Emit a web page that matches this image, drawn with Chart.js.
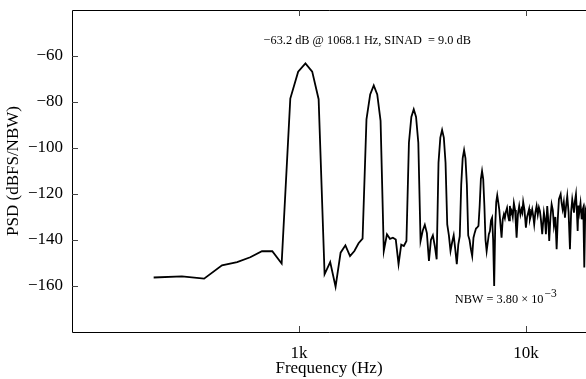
<!DOCTYPE html>
<html>
<head>
<meta charset="utf-8">
<script src="https://cdn.jsdelivr.net/npm/chart.js@4.4.0/dist/chart.umd.min.js"></script>
<style>
  html, body { margin: 0; padding: 0; background: #fff; }
</style>
</head>
<body>
<canvas id="psd" width="586" height="379"></canvas>
<script>
// PSD spectrum (Hz, dBFS/NBW)
const freqHz = [
  229, 305, 382, 458, 534, 610, 687, 763, 839,
  916, 992, 1068, 1144, 1221,
  1297, 1373, 1450, 1526, 1602, 1679, 1755, 1831, 1907,
  1984, 2060, 2136, 2213, 2289,
  2365, 2442, 2518, 2594, 2671, 2747, 2823, 2899, 2976,
  3052, 3128, 3205, 3281, 3357,
  3434, 3510, 3586, 3662, 3739, 3815, 3891, 3968, 4044,
  4120, 4197, 4273, 4349, 4425,
  4502, 4578, 4654, 4731, 4807, 4883, 4960, 5036, 5112,
  5188, 5265, 5341, 5417, 5494,
  5570, 5646, 5722, 5799, 5875, 5951, 6028, 6104, 6180,
  6257, 6333, 6409, 6485, 6562,
  6638, 6714, 6791, 6867, 6943, 7019, 7096, 7172, 7248,
  7324, 7401, 7477, 7553, 7630,
  7812, 7905, 7998, 8080, 8161, 8260, 8354, 8430, 8499, 8575,
  8648, 8750, 8852, 8960, 9030, 9100, 9220, 9343, 9460, 9572,
  9650, 9729, 9860, 10000, 10120, 10235, 10330, 10414, 10540, 10660,
  10770, 10879, 11010, 11148, 11280, 11410, 11530, 11646, 11800, 12005,
  12130, 12251, 12416, 12540, 12670, 12830, 12983, 13140, 13290, 13480,
  13659, 13820, 13982, 14227, 14370, 14518, 14690, 14860, 15040, 15213,
  15420, 15636, 15820, 16005, 16150, 16285, 16450, 16618, 16760, 16907,
  17040, 17185, 17400, 17609, 17750, 17897, 18082, 18266, 18400
];
const psdDb = [
  -156.3, -155.8, -156.8, -151.0, -149.6, -147.5, -144.9, -144.9, -150.2,
  -78.5, -66.8, -63.2, -66.8, -78.8,
  -154.9, -149.6, -160.3, -145.5, -142.3, -147.0, -144.8, -141.4, -139.4,
  -87.5, -76.7, -72.8, -76.7, -88.2,
  -144.8, -137.5, -139.5, -139.0, -139.8, -150.5, -142.0, -142.6, -140.4,
  -97.7, -86.5, -83.2, -86.5, -97.7,
  -140.4, -136.0, -133.4, -137.0, -149.1, -140.0, -138.0, -142.6, -148.4,
  -106.4, -95.5, -92.2, -95.5, -106.4,
  -133.2, -138.0, -144.8, -141.0, -138.0, -144.0, -150.5, -142.0, -138.3,
  -116.0, -104.5, -100.9, -104.5, -116.0,
  -138.0, -140.0, -144.0, -147.0, -139.0, -136.8, -135.0, -134.5, -133.9,
  -125.0, -113.5, -110.0, -113.5, -125.0,
  -140.0, -144.8, -141.0, -137.5, -136.1, -131.5, -130.3, -140.0, -160.0,
  -134.0, -123.5, -120.6, -123.5, -126.7,
  -139.0, -131.0, -128.8, -130.5, -127.8, -126.0, -129.6, -131.5, -125.2, -128.5,
  -127.4, -130.0, -124.0, -127.0, -133.0, -139.0, -129.0, -125.2, -129.0, -126.7,
  -128.0, -123.5, -127.0, -134.6, -130.0, -128.1, -126.5, -131.0, -129.0, -126.7,
  -129.5, -133.2, -128.0, -125.2, -129.0, -125.9, -127.5, -131.0, -137.5, -128.1,
  -131.0, -137.5, -125.2, -131.0, -140.4, -130.0, -124.5, -127.0, -133.9, -130.0,
  -144.0, -131.0, -122.3, -120.1, -124.0, -126.7, -123.5, -130.3, -125.0, -120.9,
  -128.0, -144.0, -128.0, -122.3, -125.0, -128.1, -123.0, -120.1, -127.0, -136.1,
  -125.0, -128.1, -124.0, -131.0, -127.0, -125.9, -152.0, -126.7, -128.0
];
const xTicks = [1000, 10000];
const yTicks = [-60, -80, -100, -120, -140, -160];
const peakNote = '\u221263.2 dB @ 1068.1 Hz, SINAD  = 9.0 dB';
const nbwNote = 'NBW = 3.80 \u00d7 10';
const nbwExp = '\u22123';

const FONT = '"Liberation Serif", "Times New Roman", serif';

// frame on three sides (right side is off the page), inward ticks, text notes
const framePlugin = {
    id: 'frame',
    afterDatasetsDraw(chart) {
        const { ctx, chartArea: a, scales: { x, y } } = chart;
        ctx.save();
        ctx.strokeStyle = '#000';
        ctx.lineWidth = 1;
        ctx.beginPath();
        ctx.moveTo(a.right, a.top + 0.5);
        ctx.lineTo(a.left + 0.5, a.top + 0.5);
        ctx.lineTo(a.left + 0.5, a.bottom + 0.5);
        ctx.lineTo(a.right, a.bottom + 0.5);
        ctx.stroke();

        ctx.strokeStyle = '#444';
        ctx.beginPath();
        xTicks.forEach(v => {
            const px = Math.round(x.getPixelForValue(v)) + 0.5;
            ctx.moveTo(px, a.bottom);
            ctx.lineTo(px, a.bottom - 6);
            ctx.moveTo(px, a.top);
            ctx.lineTo(px, a.top + 6);
        });
        yTicks.forEach(v => {
            const py = Math.round(y.getPixelForValue(v)) + 0.5;
            ctx.moveTo(a.left, py);
            ctx.lineTo(a.left + 6, py);
        });
        ctx.stroke();

        ctx.fillStyle = '#000';
        ctx.textBaseline = 'middle';
        ctx.font = '12.3px ' + FONT;
        ctx.textAlign = 'center';
        ctx.fillText(peakNote, x.getPixelForValue(2000), y.getPixelForValue(-53.4));

        ctx.textAlign = 'left';
        const nx = x.getPixelForValue(4860);
        const ny = y.getPixelForValue(-165.8);
        ctx.fillText(nbwNote, nx, ny);
        const w = ctx.measureText(nbwNote).width;
        ctx.font = '11.5px ' + FONT;
        ctx.fillText(nbwExp, nx + w + 1, ny - 5);
        ctx.restore();
    }
};

new Chart(document.getElementById('psd'), {
    type: 'line',
    data: {
        datasets: [{
            data: freqHz.map((f, i) => ({ x: f, y: psdDb[i] })),
            borderColor: '#000',
            borderWidth: 1.8,
            pointRadius: 0,
            tension: 0,
            fill: false
        }]
    },
    options: {
        responsive: false,
        animation: false,
        devicePixelRatio: 1,
        layout: { padding: { top: 10, right: 0, left: 0, bottom: 0 } },
        plugins: { legend: { display: false }, tooltip: { enabled: false } },
        scales: {
            x: {
                type: 'logarithmic',
                min: 100,
                max: 18400,
                afterBuildTicks: (s) => { s.ticks = xTicks.map(v => ({ value: v })); },
                afterFit: (s) => { s.height = 47; s.paddingLeft = 0; s.paddingRight = 0; },
                grid: { display: false, drawTicks: false },
                border: { display: false },
                ticks: {
                    autoSkip: false,
                    maxRotation: 0,
                    padding: 11,
                    color: '#000',
                    font: { family: FONT, size: 17 },
                    callback: (v) => (v / 1000) + 'k'
                },
                title: {
                    display: true,
                    text: 'Frequency (Hz)',
                    color: '#000',
                    font: { family: FONT, size: 17 },
                    padding: { top: 0, bottom: 0 }
                }
            },
            y: {
                min: -180,
                max: -40,
                afterBuildTicks: (s) => { s.ticks = yTicks.map(v => ({ value: v })); },
                afterFit: (s) => { s.width = 72; s.paddingTop = 0; s.paddingBottom = 0; },
                grid: { display: false, drawTicks: false },
                border: { display: false },
                ticks: {
                    padding: 9,
                    color: '#000',
                    font: { family: FONT, size: 17 },
                    callback: (v) => '\u2212' + Math.abs(v)
                },
                title: {
                    display: true,
                    text: 'PSD (dBFS/NBW)',
                    color: '#000',
                    font: { family: FONT, size: 17 },
                    padding: { top: 3, bottom: 0 }
                }
            }
        }
    },
    plugins: [framePlugin]
});
</script>
</body>
</html>
